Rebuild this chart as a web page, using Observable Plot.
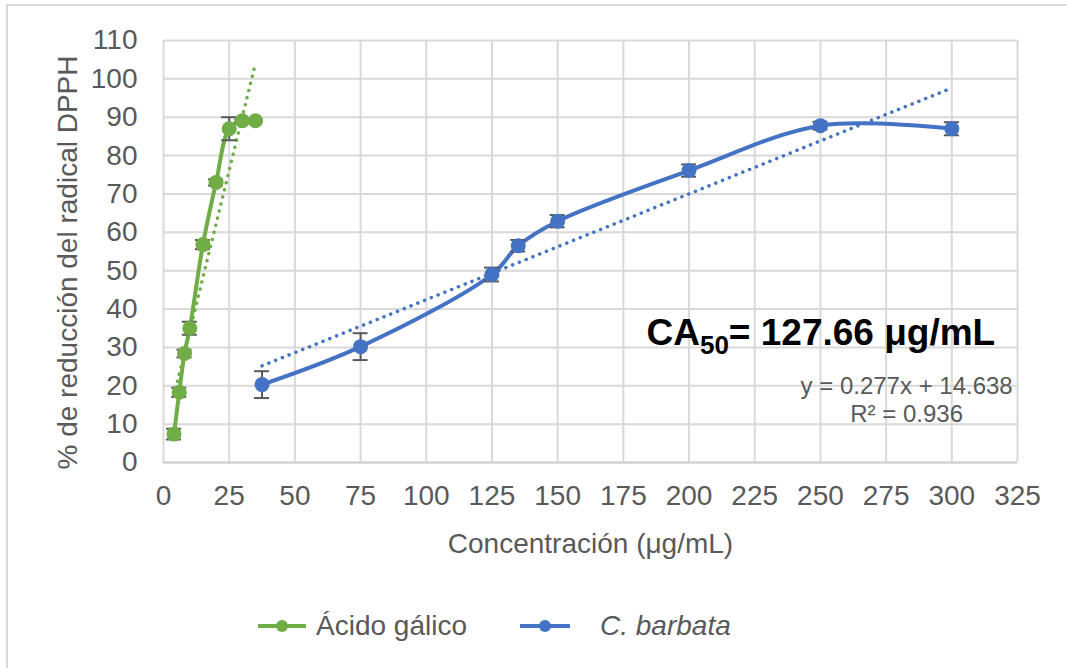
<!DOCTYPE html>
<html>
<head>
<meta charset="utf-8">
<script src="https://cdn.jsdelivr.net/npm/d3@7"></script>
<script src="https://cdn.jsdelivr.net/npm/@observablehq/plot@0.6"></script>
<style>
  html, body { margin: 0; padding: 0; background: #fff; overflow: hidden; }
  #frame { position: absolute; left: 6px; top: 4px; width: 1120px; height: 720px; border: 2px solid #d9d9d9; }
  #chart { position: absolute; left: 0; top: 0; }
  .legend-item { position: absolute; top: 606px; display: flex; align-items: center; font-family: 'Liberation Sans', Arial, sans-serif; font-size: 28px; color: #595959; height: 40px; }
  .legend-item svg { margin-right: 10px; }
</style>
</head>
<body>
<div id="frame"></div>
<div id="chart"></div>
<script>
// ---- data ----
const xTicks = [0, 25, 50, 75, 100, 125, 150, 175, 200, 225, 250, 275, 300, 325];
const yTicks = [0, 10, 20, 30, 40, 50, 60, 70, 80, 90, 100, 110];

const gallicX   = [4, 6, 8, 10, 15, 20, 25, 30, 35];
const gallicY   = [7.4, 18.3, 28.4, 35.0, 56.8, 73.0, 87.0, 89.1, 89.1];
const gallicErr = [1.4, 1.2, 1.0, 1.7, 1.2, 0.8, 3.0, 0.3, 0.3];

const barbataX   = [37.5, 75, 125, 135, 150, 200, 250, 300];
const barbataY   = [20.3, 30.2, 49.0, 56.5, 62.9, 76.1, 87.8, 87.0];
const barbataErr = [3.5, 3.5, 1.8, 1.5, 1.6, 1.6, 1.0, 1.7];

const seriesNames = ["Ácido gálico", "C. barbata"];
const xTitle = "Concentración (μg/mL)";
const yTitle = "% de reducción del radical DPPH";
const ca50Text = ["CA", "50", "= 127.66 μg/mL"];
const eqText = ["y = 0.277x + 14.638", "R² = 0.936"];

// ---- build tables ----
const GREEN = "#70AD47", BLUE = "#4472C4", ERR = "#595959";
const gallic = gallicX.map((x, i) => ({x, y: gallicY[i], e: gallicErr[i]}));
const barbata = barbataX.map((x, i) => ({x, y: barbataY[i], e: barbataErr[i]}));
const FONT = "'Liberation Sans', Arial, sans-serif";

function seriesMarks(data, color) {
  return [
    Plot.line(data, {x: "x", y: "y", stroke: color, strokeWidth: 4, curve: "catmull-rom"}),
    Plot.linearRegressionY(data, {x: "x", y: "y", ci: 0, stroke: color, strokeWidth: 3.5, strokeDasharray: "0.1 7.2", strokeLinecap: "round"}),
    Plot.ruleX(data, {x: "x", y1: d => d.y - d.e, y2: d => d.y + d.e, stroke: ERR, strokeWidth: 2}),
    Plot.ruleY(data, {x1: "x", x2: "x", y: d => d.y + d.e, insetLeft: -7.5, insetRight: -7.5, stroke: ERR, strokeWidth: 2}),
    Plot.ruleY(data, {x1: "x", x2: "x", y: d => d.y - d.e, insetLeft: -7.5, insetRight: -7.5, stroke: ERR, strokeWidth: 2}),
    Plot.dot(data, {x: "x", y: "y", r: 7.5, fill: color, stroke: "none"})
  ];
}

const chart = Plot.plot({
  width: 1067,
  height: 570,
  marginLeft: 163,
  marginRight: 50,
  marginTop: 40,
  marginBottom: 108,
  style: {fontFamily: FONT, background: "transparent", overflow: "visible"},
  x: {domain: [0, 325]},
  y: {domain: [0, 110]},
  marks: [
    Plot.gridX(xTicks, {stroke: "#d9d9d9", strokeOpacity: 1, strokeWidth: 2}),
    Plot.gridY(yTicks, {stroke: "#d9d9d9", strokeOpacity: 1, strokeWidth: 2}),
    Plot.ruleY([0], {stroke: "#cfcfcf", strokeWidth: 2}),
    Plot.axisX(xTicks, {tickSize: 0, tickPadding: 23, fontSize: 28, color: "#595959", label: null}),
    Plot.axisY(yTicks, {tickSize: 0, tickPadding: 26, fontSize: 28, color: "#595959", label: null}),
    Plot.text([xTitle], {frameAnchor: "bottom", dy: 90, fontSize: 28, fill: "#595959"}),
    Plot.text([yTitle], {frameAnchor: "left", textAnchor: "middle", dx: -95, dy: 11, rotate: -90, fontSize: 28, fill: "#595959"}),
    ...seriesMarks(gallic, GREEN),
    ...seriesMarks(barbata, BLUE)
  ]
});
document.getElementById("chart").append(chart);

// ---- annotations (placed in data coordinates) ----
const sx = chart.scale("x"), sy = chart.scale("y");
const svg = d3.select(chart);
const ca = svg.append("text")
  .attr("x", sx.apply(184)).attr("y", sy.apply(30.5)).attr("text-anchor", "start")
  .attr("font-family", FONT).attr("font-weight", "bold").attr("font-size", 37).attr("fill", "#000");
ca.append("tspan").text(ca50Text[0]);
ca.append("tspan").attr("font-size", 26).attr("dy", 9).text(ca50Text[1]);
ca.append("tspan").attr("dy", -9).text(ca50Text[2]);

svg.append("text")
  .attr("x", sx.apply(283)).attr("y", sy.apply(17.65))
  .attr("text-anchor", "middle").attr("font-family", FONT).attr("font-size", 24).attr("fill", "#595959")
  .text(eqText[0]);
svg.append("text")
  .attr("x", sx.apply(283)).attr("y", sy.apply(10.5))
  .attr("text-anchor", "middle").attr("font-family", FONT).attr("font-size", 24).attr("fill", "#595959")
  .text(eqText[1]);

// ---- legend ----
const legendColors = [GREEN, BLUE];
const legendLeft = [258, 520];
seriesNames.forEach((name, i) => {
  const item = document.createElement("div");
  item.className = "legend-item";
  item.style.left = legendLeft[i] + "px";
  const w = i === 0 ? 48 : 50;
  item.innerHTML = `<svg width="${w}" height="20"><line x1="1" x2="${w - 1}" y1="10" y2="10" stroke="${legendColors[i]}" stroke-width="4" stroke-linecap="round"/><circle cx="${w / 2}" cy="10" r="6" fill="${legendColors[i]}"/></svg>` +
    (i === 1 ? `<span style="font-style:italic;margin-left:20px">${name}</span>` : `<span>${name}</span>`);
  document.body.append(item);
});
</script>
</body>
</html>
